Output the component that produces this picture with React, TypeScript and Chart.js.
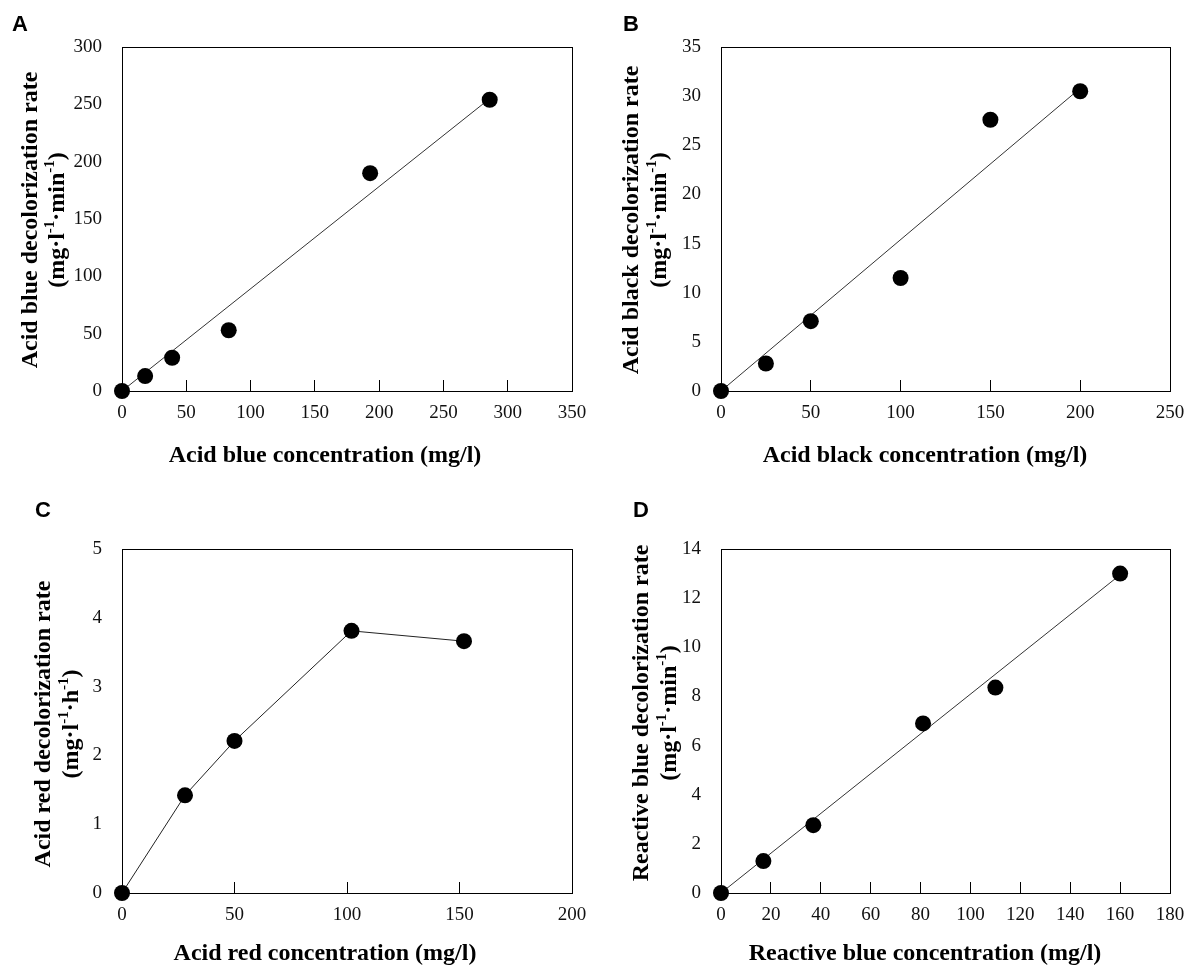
import React, { useEffect, useRef } from "react";
import { Chart, registerables } from "chart.js";

Chart.register(...registerables);

// ---------------- DATA ----------------
const acidBlueConc = [0, 18, 39, 83, 193, 286];
const acidBlueRate = [0, 13, 29, 53, 190, 254];
const acidBlueFitConc = [0, 286];
const acidBlueFitRate = [0, 255];
const acidBlueXTicks = [0, 50, 100, 150, 200, 250, 300, 350];
const acidBlueYTicks = [0, 50, 100, 150, 200, 250, 300];

const acidBlackConc = [0, 25, 50, 100, 150, 200];
const acidBlackRate = [0, 2.8, 7.1, 11.5, 27.6, 30.5];
const acidBlackFitConc = [0, 200];
const acidBlackFitRate = [0, 30.8];
const acidBlackXTicks = [0, 50, 100, 150, 200, 250];
const acidBlackYTicks = [0, 5, 10, 15, 20, 25, 30, 35];

const acidRedConc = [0, 28, 50, 102, 152];
const acidRedRate = [0, 1.42, 2.21, 3.81, 3.66];
const acidRedXTicks = [0, 50, 100, 150, 200];
const acidRedYTicks = [0, 1, 2, 3, 4, 5];

const reactiveBlueConc = [0, 17, 37, 81, 110, 160];
const reactiveBlueRate = [0, 1.3, 2.76, 6.9, 8.36, 13.0];
const reactiveBlueFitConc = [0, 160];
const reactiveBlueFitRate = [0, 12.95];
const reactiveBlueXTicks = [0, 20, 40, 60, 80, 100, 120, 140, 160, 180];
const reactiveBlueYTicks = [0, 2, 4, 6, 8, 10, 12, 14];

// ---------------- LAYOUT ----------------
type Part = { t: string; sup?: boolean };
type Panel = {
  letter: string;
  xTitle: string;
  yTitle1: string;
  yTitle2: Part[];
  xs: number[];
  ys: number[];
  fitX?: number[];
  fitY?: number[];
  connect: boolean;
  xTicks: number[];
  yTicks: number[];
  box: { x: number; y: number; w: number; h: number };
  area: { l: number; r: number; t: number; b: number };
  letterPos: { x: number; y: number };
  yT1: number;
  yT2: number;
  yTCenter: number;
  xTCenterX: number;
  xTCenterY: number;
};

const unitMin: Part[] = [
  { t: "(mg\u00b7l" },
  { t: "-1", sup: true },
  { t: "\u00b7min" },
  { t: "-1", sup: true },
  { t: ")" },
];
const unitH: Part[] = [
  { t: "(mg\u00b7l" },
  { t: "-1", sup: true },
  { t: "\u00b7h" },
  { t: "-1", sup: true },
  { t: ")" },
];

const panels: Panel[] = [
  {
    letter: "A",
    xTitle: "Acid blue concentration (mg/l)",
    yTitle1: "Acid blue decolorization rate",
    yTitle2: unitMin,
    xs: acidBlueConc,
    ys: acidBlueRate,
    fitX: acidBlueFitConc,
    fitY: acidBlueFitRate,
    connect: false,
    xTicks: acidBlueXTicks,
    yTicks: acidBlueYTicks,
    box: { x: 0, y: 0, w: 593, h: 480 },
    area: { l: 122, r: 572, t: 47, b: 391 },
    letterPos: { x: 20, y: 25 },
    yT1: 29,
    yT2: 56,
    yTCenter: 220,
    xTCenterX: 325,
    xTCenterY: 456,
  },
  {
    letter: "B",
    xTitle: "Acid black concentration (mg/l)",
    yTitle1: "Acid black decolorization rate",
    yTitle2: unitMin,
    xs: acidBlackConc,
    ys: acidBlackRate,
    fitX: acidBlackFitConc,
    fitY: acidBlackFitRate,
    connect: false,
    xTicks: acidBlackXTicks,
    yTicks: acidBlackYTicks,
    box: { x: 593, y: 0, w: 594, h: 480 },
    area: { l: 721, r: 1170, t: 47, b: 391 },
    letterPos: { x: 631, y: 25 },
    yT1: 630,
    yT2: 658,
    yTCenter: 220,
    xTCenterX: 925,
    xTCenterY: 456,
  },
  {
    letter: "C",
    xTitle: "Acid red concentration (mg/l)",
    yTitle1: "Acid red decolorization rate",
    yTitle2: unitH,
    xs: acidRedConc,
    ys: acidRedRate,
    connect: true,
    xTicks: acidRedXTicks,
    yTicks: acidRedYTicks,
    box: { x: 0, y: 480, w: 593, h: 491 },
    area: { l: 122, r: 572, t: 549, b: 893 },
    letterPos: { x: 43, y: 511 },
    yT1: 42,
    yT2: 70,
    yTCenter: 724,
    xTCenterX: 325,
    xTCenterY: 954,
  },
  {
    letter: "D",
    xTitle: "Reactive blue concentration (mg/l)",
    yTitle1: "Reactive blue decolorization rate",
    yTitle2: unitMin,
    xs: reactiveBlueConc,
    ys: reactiveBlueRate,
    fitX: reactiveBlueFitConc,
    fitY: reactiveBlueFitRate,
    connect: false,
    xTicks: reactiveBlueXTicks,
    yTicks: reactiveBlueYTicks,
    box: { x: 593, y: 480, w: 594, h: 491 },
    area: { l: 721, r: 1170, t: 549, b: 893 },
    letterPos: { x: 641, y: 511 },
    yT1: 640,
    yT2: 668,
    yTCenter: 713,
    xTCenterX: 925,
    xTCenterY: 954,
  },
];

const SERIF = '"Liberation Serif", "Times New Roman", "DejaVu Serif", serif';
const SANS = '"Liberation Sans", Arial, "DejaVu Sans", sans-serif';
const TITLE_SIZE = 24;

function drawParts(
  ctx: CanvasRenderingContext2D,
  parts: Part[],
  size: number
) {
  const mainFont = `bold ${size}px ${SERIF}`;
  const supFont = `bold ${Math.round(size * 0.62)}px ${SERIF}`;
  let total = 0;
  const widths: number[] = [];
  for (const p of parts) {
    ctx.font = p.sup ? supFont : mainFont;
    const w = ctx.measureText(p.t).width;
    widths.push(w);
    total += w;
  }
  let x = -total / 2;
  ctx.textAlign = "left";
  ctx.textBaseline = "alphabetic";
  const base = size * 0.33;
  parts.forEach((p, i) => {
    ctx.font = p.sup ? supFont : mainFont;
    ctx.fillText(p.t, x, p.sup ? base - size * 0.42 : base);
    x += widths[i];
  });
}

function makeDecor(p: Panel) {
  const ox = p.box.x;
  const oy = p.box.y;
  return {
    id: "decor" + p.letter,
    beforeDatasetsDraw(chart: any) {
      const { ctx, chartArea } = chart;
      ctx.save();
      ctx.strokeStyle = "#000";
      ctx.lineWidth = 1;
      const l = Math.round(chartArea.left) + 0.5;
      const t = Math.round(chartArea.top) + 0.5;
      const r = Math.round(chartArea.right) + 0.5;
      const b = Math.round(chartArea.bottom) + 0.5;
      ctx.strokeRect(l, t, r - l, b - t);
      ctx.restore();
    },
    afterDraw(chart: any) {
      const ctx: CanvasRenderingContext2D = chart.ctx;
      ctx.save();
      ctx.fillStyle = "#000";
      ctx.font = `bold 22px ${SANS}`;
      ctx.textAlign = "center";
      ctx.textBaseline = "middle";
      ctx.fillText(p.letter, p.letterPos.x - ox, p.letterPos.y - oy);
      ctx.font = `bold ${TITLE_SIZE}px ${SERIF}`;
      ctx.textAlign = "center";
      ctx.textBaseline = "middle";
      ctx.fillText(p.xTitle, p.xTCenterX - ox, p.xTCenterY - oy);
      ctx.save();
      ctx.translate(p.yT1 - ox, p.yTCenter - oy);
      ctx.rotate(-Math.PI / 2);
      drawParts(ctx, [{ t: p.yTitle1 }], TITLE_SIZE);
      ctx.restore();
      ctx.save();
      ctx.translate(p.yT2 - ox, p.yTCenter - oy);
      ctx.rotate(-Math.PI / 2);
      drawParts(ctx, p.yTitle2, TITLE_SIZE);
      ctx.restore();
      ctx.restore();
    },
  };
}

function PanelChart({ p }: { p: Panel }) {
  const ref = useRef<HTMLCanvasElement | null>(null);
  useEffect(() => {
    if (!ref.current) return;
    const w = p.box.w;
    const h = p.box.h;
    const areaL = p.area.l - p.box.x;
    const areaR = p.area.r - p.box.x;
    const areaT = p.area.t - p.box.y;
    const areaB = p.area.b - p.box.y;
    const points = p.xs.map((x, i) => ({ x, y: p.ys[i] }));
    const datasets: any[] = [
      {
        data: points,
        showLine: p.connect,
        borderColor: "#222",
        borderWidth: 1,
        backgroundColor: "#000",
        pointBackgroundColor: "#000",
        pointBorderWidth: 0,
        pointRadius: 8,
        clip: false,
      },
    ];
    if (p.fitX && p.fitY) {
      datasets.push({
        data: p.fitX.map((x, i) => ({ x, y: p.fitY![i] })),
        showLine: true,
        borderColor: "#333",
        borderWidth: 1,
        pointRadius: 0,
        clip: false,
      });
    }
    const tickFont = { family: SERIF, size: 19 };
    const chart = new Chart(ref.current, {
      type: "scatter",
      data: { datasets },
      options: {
        responsive: false,
        animation: false,
        layout: {
          padding: { left: 0, top: areaT, right: w - areaR, bottom: 0 },
        },
        plugins: {
          legend: { display: false },
          tooltip: { enabled: false },
          title: { display: false },
        },
        scales: {
          x: {
            type: "linear",
            min: p.xTicks[0],
            max: p.xTicks[p.xTicks.length - 1],
            afterBuildTicks: (s: any) => {
              s.ticks = p.xTicks.map((v) => ({ value: v }));
            },
            ticks: {
              font: tickFont,
              color: "#111",
              padding: 22,
              maxRotation: 0,
              autoSkip: false,
            },
            grid: {
              display: true,
              drawOnChartArea: false,
              drawTicks: true,
              tickLength: -11,
              color: "#000",
              lineWidth: 1,
            },
            border: { display: true, color: "#000", width: 1 },
            afterFit: (s: any) => {
              s.height = h - areaB;
              s.paddingLeft = 0;
              s.paddingRight = 0;
            },
          },
          y: {
            type: "linear",
            min: p.yTicks[0],
            max: p.yTicks[p.yTicks.length - 1],
            afterBuildTicks: (s: any) => {
              s.ticks = p.yTicks.map((v) => ({ value: v }));
            },
            ticks: { font: tickFont, color: "#111", padding: 12, autoSkip: false },
            grid: { display: false },
            border: { display: true, color: "#000", width: 1 },
            afterFit: (s: any) => {
              s.width = areaL;
              s.paddingTop = 0;
              s.paddingBottom = 0;
            },
          },
        },
      },
      plugins: [makeDecor(p)],
    } as any);
    return () => chart.destroy();
  }, [p]);
  return (
    <canvas
      ref={ref}
      width={p.box.w}
      height={p.box.h}
      style={{
        position: "absolute",
        left: p.box.x,
        top: p.box.y,
        width: p.box.w,
        height: p.box.h,
      }}
    />
  );
}

export default function App() {
  return (
    <div
      style={{
        position: "fixed",
        left: 0,
        top: 0,
        width: 1187,
        height: 971,
        background: "#fff",
        overflow: "hidden",
      }}
    >
      {panels.map((p) => (
        <PanelChart key={p.letter} p={p} />
      ))}
    </div>
  );
}
